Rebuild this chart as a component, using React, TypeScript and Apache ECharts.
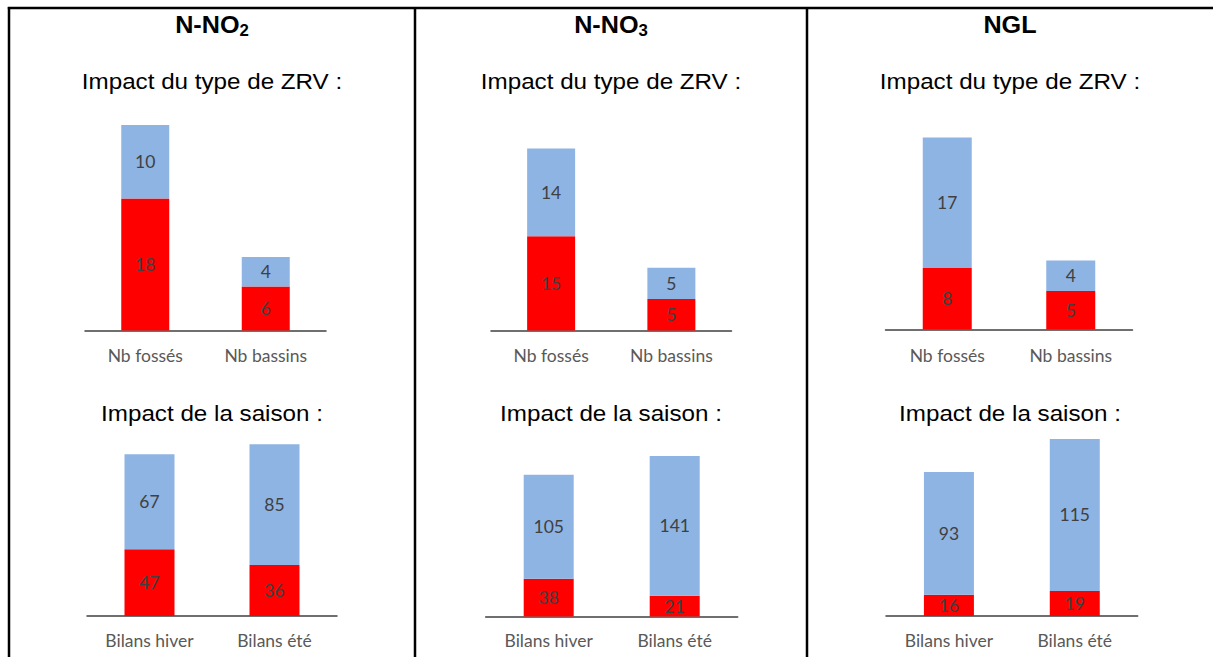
import React, { useEffect, useRef } from "react";
import * as echarts from "echarts";

// ---- Data ----
const parameters = ["N-NO", "N-NO", "NGL"];
const parameterSubscripts = ["2", "3", ""];
const zrvTitle = "Impact du type de ZRV :";
const saisonTitle = "Impact de la saison :";

const zrvCategories = ["Nb fossés", "Nb bassins"];
const saisonCategories = ["Bilans hiver", "Bilans été"];

const zrvRedNO2 = [18, 6];
const zrvBlueNO2 = [10, 4];
const zrvRedNO3 = [15, 5];
const zrvBlueNO3 = [14, 5];
const zrvRedNGL = [8, 5];
const zrvBlueNGL = [17, 4];

const saisonRedNO2 = [47, 36];
const saisonBlueNO2 = [67, 85];
const saisonRedNO3 = [38, 21];
const saisonBlueNO3 = [105, 141];
const saisonRedNGL = [16, 19];
const saisonBlueNGL = [93, 115];

// ---- Styles ----
const RED = "#FF0000";
const BLUE = "#8EB4E3";
const LABEL_COLOR = "#404040";
const CAT_COLOR = "#595959";

type Panel = {
  cats: string[];
  red: number[];
  blue: number[];
  box: [number, number, number, number];
  barWidth: number;
  labelMargin: number;
};

const panels: Panel[] = [
  { cats: zrvCategories, red: zrvRedNO2, blue: zrvBlueNO2, box: [85, 326, 125, 330.5], barWidth: 48, labelMargin: 16 },
  { cats: zrvCategories, red: zrvRedNO3, blue: zrvBlueNO3, box: [491, 731.5, 148.5, 330.5], barWidth: 48, labelMargin: 16 },
  { cats: zrvCategories, red: zrvRedNGL, blue: zrvBlueNGL, box: [885.5, 1132.5, 137.5, 329.5], barWidth: 49, labelMargin: 17 },
  { cats: saisonCategories, red: saisonRedNO2, blue: saisonBlueNO2, box: [87, 337, 444.3, 616], barWidth: 50, labelMargin: 15 },
  { cats: saisonCategories, red: saisonRedNO3, blue: saisonBlueNO3, box: [485.7, 737.7, 456, 616.5], barWidth: 50, labelMargin: 15 },
  { cats: saisonCategories, red: saisonRedNGL, blue: saisonBlueNGL, box: [886, 1137.7, 439, 616], barWidth: 50, labelMargin: 15 },
];

const colCenters = [212, 611, 1010];

export default function App() {
  const ref = useRef<HTMLDivElement>(null);

  useEffect(() => {
    if (!ref.current) return;
    const chart = echarts.init(ref.current, undefined, { renderer: "svg" });

    const grid: any[] = [];
    const xAxis: any[] = [];
    const yAxis: any[] = [];
    const series: any[] = [];

    panels.forEach((p, i) => {
      const [l, r, t, b] = p.box;
      grid.push({ left: l, top: t, width: r - l, height: b - t, containLabel: false });
      xAxis.push({
        type: "category",
        gridIndex: i,
        data: p.cats,
        axisLine: { show: true, lineStyle: { color: "#404040", width: 1.5 } },
        axisTick: { show: false },
        axisLabel: { margin: p.labelMargin, color: CAT_COLOR, fontFamily: "Lato", fontSize: 17.5 },
      });
      const totals = p.red.map((v, k) => v + p.blue[k]);
      yAxis.push({
        type: "value",
        gridIndex: i,
        min: 0,
        max: Math.max(...totals),
        show: false,
        splitLine: { show: false },
      });
      const label = {
        show: true,
        position: "inside",
        color: LABEL_COLOR,
        fontFamily: "Lato",
        fontSize: 17.5,
      };
      series.push({
        type: "bar",
        name: "rouge",
        xAxisIndex: i,
        yAxisIndex: i,
        stack: "s" + i,
        data: p.red,
        barWidth: p.barWidth,
        itemStyle: { color: RED },
        label,
      });
      series.push({
        type: "bar",
        name: "bleu",
        xAxisIndex: i,
        yAxisIndex: i,
        stack: "s" + i,
        data: p.blue,
        barWidth: p.barWidth,
        itemStyle: { color: BLUE },
        label,
      });
    });

    const graphic: any[] = [];
    // table borders
    const lineStyle = { stroke: "#000", lineWidth: 2.5 };
    graphic.push({ type: "line", shape: { x1: 7.8, y1: 8, x2: 1213, y2: 8 }, style: lineStyle });
    [9, 415, 807].forEach((x) => {
      graphic.push({ type: "line", shape: { x1: x, y1: 7, x2: x, y2: 657 }, style: lineStyle });
    });

    parameters.forEach((name, i) => {
      const sub = parameterSubscripts[i];
      graphic.push({
        type: "text",
        x: colCenters[i],
        y: 25,
        scaleX: 1.05,
        style: {
          text: sub ? `{a|${name}}{b|${sub}}` : `{a|${name}}`,
          align: "center",
          verticalAlign: "middle",
          rich: {
            a: { fontFamily: "Liberation Sans", fontWeight: "bold", fontSize: 24, lineHeight: 27, fill: "#000" },
            b: { fontFamily: "Liberation Sans", fontWeight: "bold", fontSize: 16, lineHeight: 18, verticalAlign: "bottom", fill: "#000" },
          },
        },
      });
      graphic.push({
        type: "text",
        x: colCenters[i],
        y: 81,
        scaleX: 1.1,
        style: {
          text: zrvTitle,
          align: "center",
          verticalAlign: "middle",
          fontFamily: "Liberation Sans",
          fontSize: 22,
          fill: "#000",
        },
      });
      graphic.push({
        type: "text",
        x: colCenters[i],
        y: 413,
        scaleX: 1.1,
        style: {
          text: saisonTitle,
          align: "center",
          verticalAlign: "middle",
          fontFamily: "Liberation Sans",
          fontSize: 22,
          fill: "#000",
        },
      });
    });

    chart.setOption({
      animation: false,
      backgroundColor: "#fff",
      grid,
      xAxis,
      yAxis,
      series,
      graphic,
    });

    return () => chart.dispose();
  }, []);

  return (
    <div
      ref={ref}
      style={{ position: "fixed", left: 0, top: 0, width: 1213, height: 657, background: "#fff" }}
    />
  );
}
